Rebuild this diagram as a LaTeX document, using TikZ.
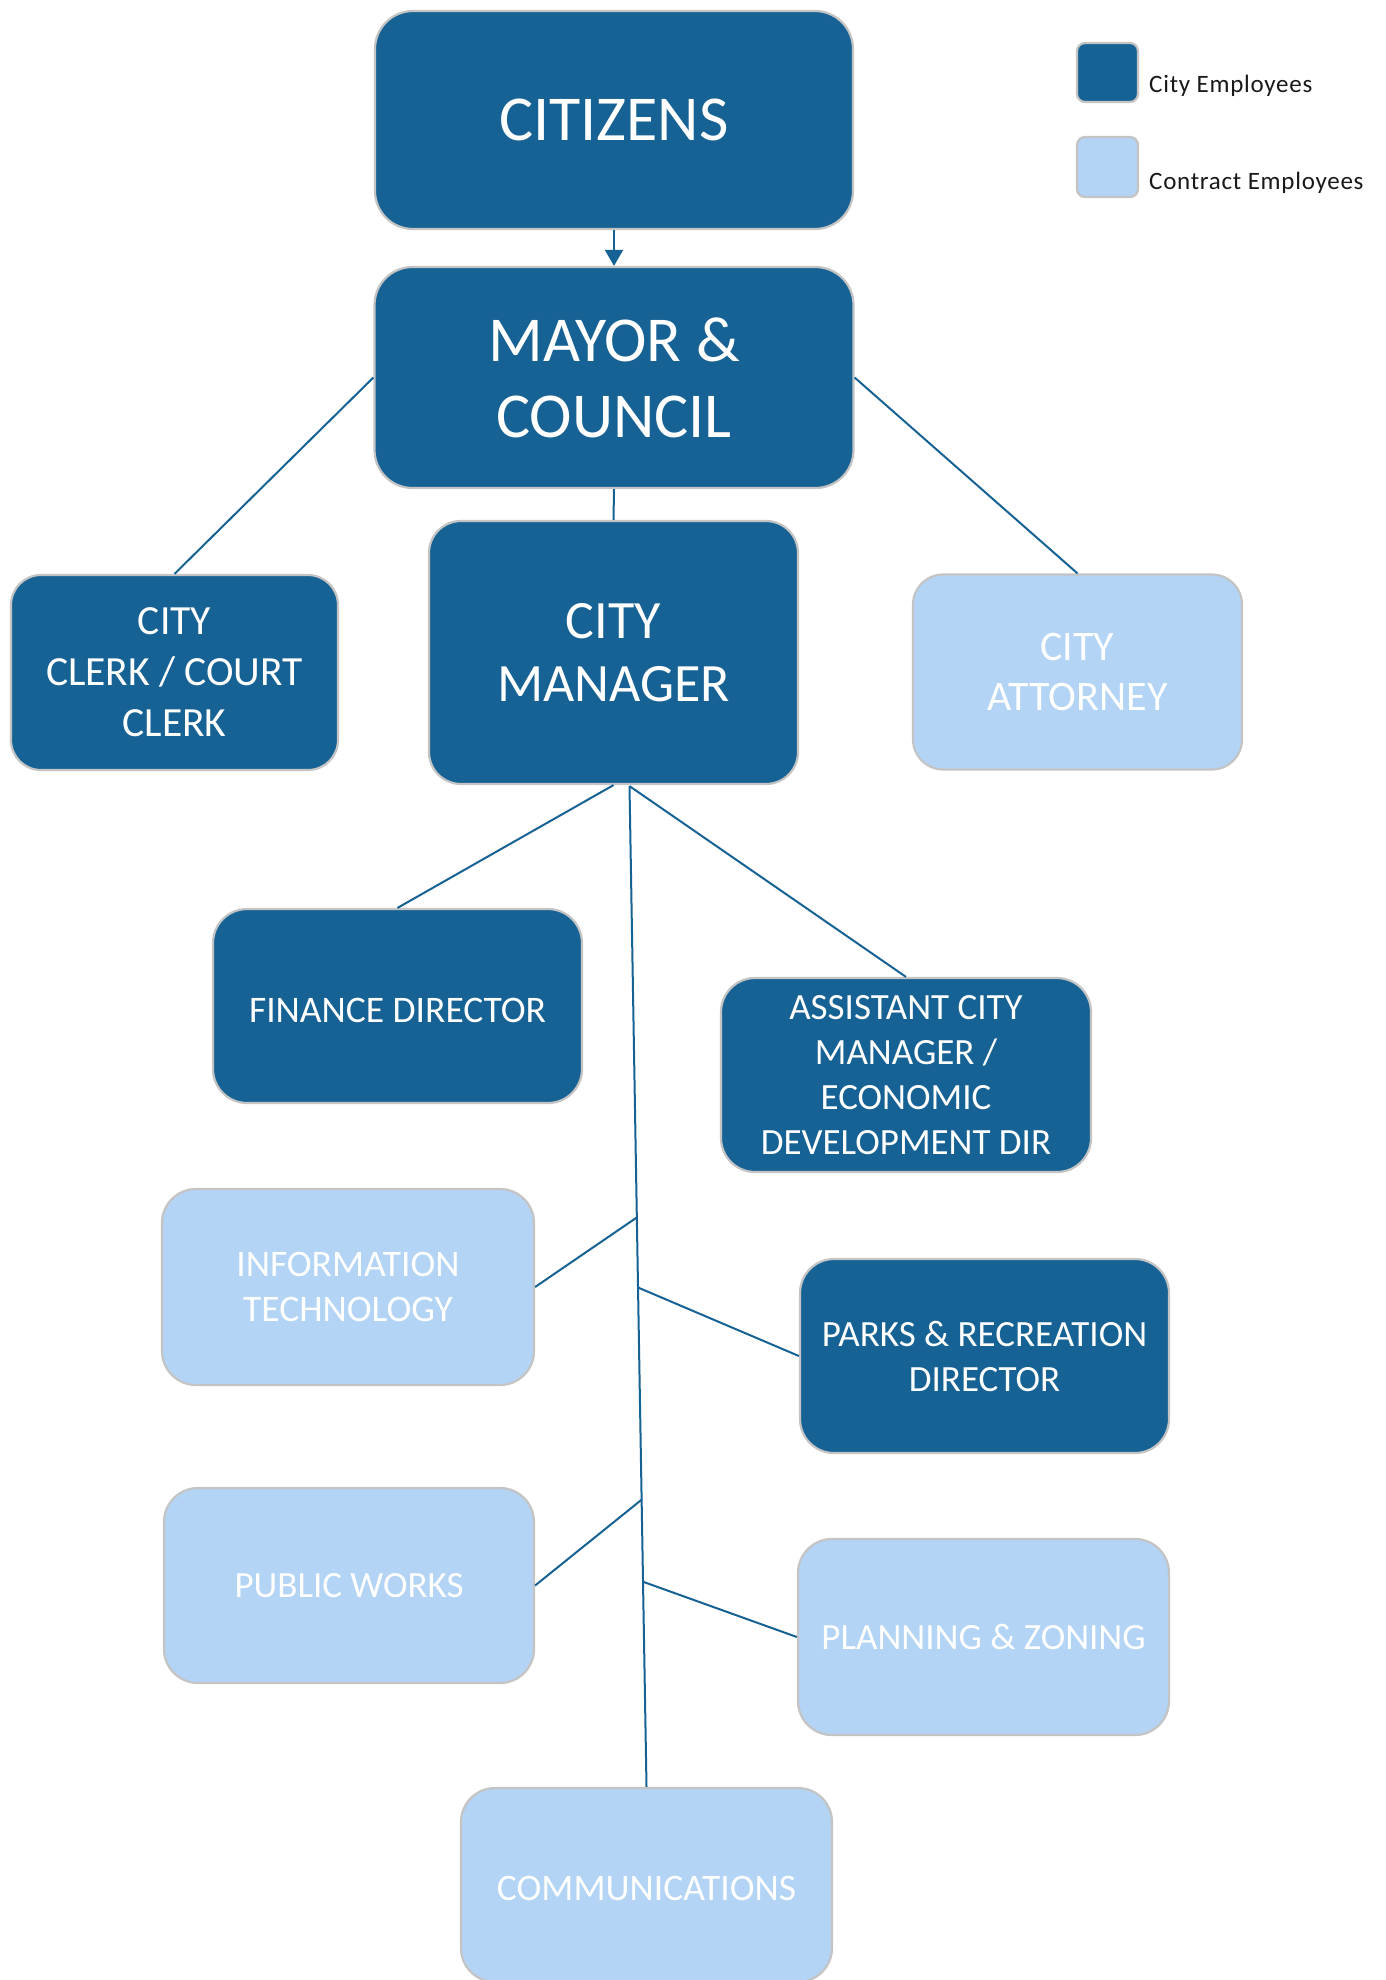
\documentclass[tikz,border=0pt]{standalone}
\usepackage{fontspec}
\setmainfont{Carlito}
\newfontfamily\legfont[LetterSpace=3]{Carlito}
\usetikzlibrary{arrows.meta,calc}
\definecolor{dk}{RGB}{23,98,148}
\definecolor{lt}{RGB}{179,212,245}
\definecolor{bd}{RGB}{196,196,196}
\definecolor{lg}{RGB}{25,25,25}
\tikzset{
  box/.style={draw=bd, line width=2.2, rounded corners=34, text=white, align=center, inner sep=0},
  city/.style={box, fill=dk},
  contract/.style={box, fill=lt},
  link/.style={draw=dk, line width=2},
  legtext/.style={text=lg, anchor=base west, inner sep=0, font=\legfont\fontsize{25}{30}\selectfont}
}
\begin{document}
\begin{tikzpicture}[x=1pt,y=-1pt]
\useasboundingbox[fill=white] (0,0) rectangle (1385,1980);
% boxes
\node[city, minimum width=478, minimum height=218, rounded corners=38, font=\fontsize{64}{76}\selectfont] (cit) at (614,120) {CITIZENS};
\node[city, minimum width=479, minimum height=221, rounded corners=38, font=\fontsize{64}{76}\selectfont] (may) at (614,377.5) {MAYOR \&\\COUNCIL};
\node[city, minimum width=327, minimum height=195, rounded corners=30, font=\fontsize{41.5}{51}\selectfont] (clk) at (174.5,672.5) {CITY\\CLERK / COURT\\CLERK};
\node[city, minimum width=369, minimum height=263, rounded corners=32, font=\fontsize{54}{63}\selectfont] (mgr) at (613.5,652.5) {CITY\\MANAGER};
\node[contract, minimum width=329, minimum height=195, rounded corners=30, font=\fontsize{42}{50}\selectfont] (att) at (1077.5,672) {CITY\\ATTORNEY};
\node[city, minimum width=369, minimum height=194, font=\fontsize{37.5}{45}\selectfont] (fin) at (397.5,1006) {\raisebox{-4pt}[\height][\depth]{FINANCE DIRECTOR}};
\node[city, minimum width=370, minimum height=194, font=\fontsize{37}{45}\selectfont] (asst) at (906,1075) {ASSISTANT CITY\\MANAGER /\\ECONOMIC\\DEVELOPMENT DIR};
\node[contract, minimum width=372, minimum height=196, font=\fontsize{37.5}{45}\selectfont] (it) at (348,1287) {INFORMATION\\TECHNOLOGY};
\node[city, minimum width=369, minimum height=194, font=\fontsize{37}{45}\selectfont] (prk) at (984.5,1356) {PARKS \& RECREATION\\DIRECTOR};
\node[contract, minimum width=370, minimum height=195, font=\fontsize{37}{45}\selectfont] (pw) at (349,1585.5) {PUBLIC WORKS};
\node[contract, minimum width=371, minimum height=196, font=\fontsize{37}{45}\selectfont] (pz) at (983.5,1637) {PLANNING \& ZONING};
\node[contract, minimum width=371, minimum height=194, font=\fontsize{37.5}{45}\selectfont] (com) at (646.5,1885) {\raisebox{-3pt}[\height][\depth]{COMMUNICATIONS}};
% legend
\node[box, fill=dk, minimum width=61, minimum height=59, rounded corners=8] (lg1) at (1107.5,72.5) {};
\node[box, fill=lt, minimum width=61, minimum height=60, rounded corners=8] (lg2) at (1107.5,167) {};
\node[legtext] (lt1) at (1149,92.5) {City Employees};
\node[legtext] (lt2) at (1149,189.5) {Contract Employees};
% connectors
\draw[link, -{Triangle[width=18,length=16]}] (cit.south) -- (may.north);
\draw[link] (may.west) -- (clk.north);
\draw[link] (may.east) -- (att.north);
\draw[link] (may.south) -- (mgr.north);
\draw[link] (mgr.south) -- (fin.north);
\coordinate (t0) at ($(mgr.south)+(16,1)$);
\draw[link] (t0) -- (asst.north);
\draw[link] (t0) -- (com.north);
\coordinate (j1) at ($(t0)!0.431!(com.north)$);
\coordinate (j2) at ($(t0)!0.501!(com.north)$);
\coordinate (j3) at ($(t0)!0.713!(com.north)$);
\coordinate (j4) at ($(t0)!0.795!(com.north)$);
\draw[link] (it.east) -- (j1);
\draw[link] (prk.west) -- (j2);
\draw[link] (pw.east) -- (j3);
\draw[link] (pz.west) -- (j4);
\end{tikzpicture}
\end{document}
